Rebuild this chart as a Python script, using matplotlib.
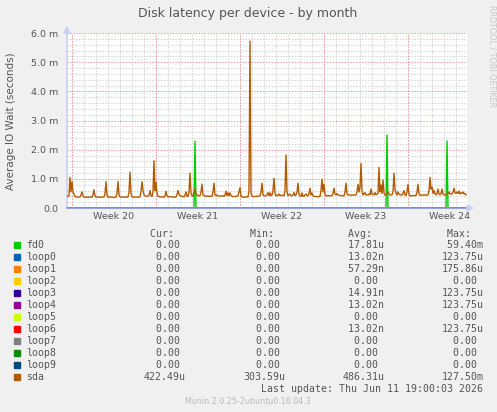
import matplotlib
matplotlib.use('Agg')
import matplotlib.pyplot as plt
from matplotlib.patches import Polygon, Rectangle

# ---------------- data ----------------
# hours since start of the 33-day window; values in milliseconds
sda_hours = [0, 2, 4, 6, 8, 10, 12, 14, 16, 18, 22, 26, 28, 30, 32, 34, 38, 42, 46, 50,
             52, 54, 56, 58, 62, 66, 70, 74, 76, 78, 80, 82, 86, 90, 94, 98, 100, 102, 104, 106,
             110, 114, 118, 122, 124, 126, 128, 130, 134, 138, 142, 146, 148, 150, 152, 154, 156, 158, 162, 164,
             166, 168, 170, 172, 174, 176, 178, 180, 182, 186, 190, 194, 196, 198, 200, 202, 206, 210, 214, 218,
             220, 222, 224, 226, 230, 234, 236, 238, 240, 242, 244, 246, 248, 250, 252, 254, 256, 258, 260, 262,
             266, 268, 270, 272, 274, 278, 282, 286, 290, 292, 294, 296, 298, 300, 302, 306, 310, 314, 316, 318,
             320, 322, 324, 326, 328, 330, 334, 338, 342, 344, 346, 348, 350, 354, 358, 362, 364, 366, 368, 370,
             374, 378, 382, 386, 388, 390, 392, 394, 398, 400, 402, 404, 406, 408, 410, 412, 414, 416, 418, 422,
             424, 426, 428, 430, 432, 434, 436, 438, 440, 442, 444, 446, 448, 450, 452, 454, 456, 458, 460, 462,
             464, 466, 468, 470, 472, 474, 476, 478, 480, 482, 484, 486, 488, 490, 492, 494, 498, 502, 506, 508,
             510, 512, 514, 516, 518, 522, 526, 530, 532, 534, 536, 538, 540, 542, 546, 550, 554, 556, 558, 560,
             562, 566, 570, 574, 578, 580, 582, 584, 586, 588, 590, 592, 594, 596, 598, 602, 604, 606, 608, 610,
             614, 616, 618, 622, 624, 626, 628, 630, 632, 634, 636, 638, 640, 642, 644, 646, 650, 652, 654, 656,
             658, 660, 662, 664, 666, 670, 672, 674, 676, 678, 680, 682, 684, 686, 690, 694, 698, 700, 702, 704,
             706, 710, 714, 718, 722, 724, 726, 728, 730, 732, 734, 736, 738, 740, 742, 744, 746, 748, 750, 752,
             754, 758, 762, 764, 766, 770, 772, 774, 776, 778, 780, 782, 784, 786, 788, 790, 792, 794, 796, 798]
sda_ms = [0.40, 0.40, 0.42, 1.05, 0.55, 0.90, 0.55, 0.48, 0.40, 0.38, 0.37, 0.38, 0.45, 0.55, 0.42, 0.37, 0.38, 0.36, 0.38, 0.37,
          0.45, 0.62, 0.42, 0.37, 0.38, 0.37, 0.37, 0.38, 0.50, 0.90, 0.45, 0.37, 0.38, 0.37, 0.36, 0.38, 0.50, 0.90, 0.45, 0.38,
          0.37, 0.38, 0.37, 0.38, 0.55, 1.23, 0.50, 0.38, 0.37, 0.38, 0.37, 0.38, 0.55, 0.90, 0.60, 0.45, 0.42, 0.40, 0.40, 0.45,
          0.60, 0.42, 0.40, 0.55, 1.62, 0.60, 0.88, 0.50, 0.40, 0.38, 0.38, 0.37, 0.42, 0.57, 0.42, 0.38, 0.39, 0.38, 0.37, 0.38,
          0.45, 0.60, 0.48, 0.42, 0.40, 0.38, 0.45, 0.55, 0.40, 0.39, 0.55, 1.20, 0.50, 0.42, 0.40, 0.55, 0.65, 0.50, 0.45, 0.42,
          0.42, 0.55, 0.82, 0.45, 0.42, 0.40, 0.41, 0.40, 0.40, 0.55, 0.85, 0.45, 0.42, 0.45, 0.42, 0.40, 0.42, 0.40, 0.45, 0.58,
          0.42, 0.52, 0.42, 0.52, 0.42, 0.40, 0.39, 0.40, 0.42, 0.55, 0.70, 0.42, 0.38, 0.37, 0.38, 0.38, 0.60, 5.72, 0.50, 0.40,
          0.39, 0.40, 0.40, 0.42, 0.55, 0.85, 0.45, 0.42, 0.42, 0.45, 0.53, 0.42, 0.52, 0.42, 0.45, 0.60, 1.02, 0.50, 0.42, 0.44,
          0.48, 0.42, 0.44, 0.44, 0.42, 0.42, 0.60, 1.82, 0.55, 0.42, 0.45, 0.48, 0.42, 0.42, 0.45, 0.53, 0.42, 0.45, 0.55, 0.85,
          0.48, 0.42, 0.40, 0.52, 0.40, 0.40, 0.45, 0.48, 0.42, 0.42, 0.50, 0.68, 0.45, 0.51, 0.42, 0.40, 0.39, 0.39, 0.40, 0.60,
          0.99, 0.55, 0.81, 0.48, 0.42, 0.42, 0.42, 0.42, 0.50, 0.68, 0.48, 0.45, 0.50, 0.45, 0.43, 0.42, 0.42, 0.55, 0.85, 0.48,
          0.45, 0.44, 0.45, 0.44, 0.45, 0.55, 0.81, 0.55, 0.70, 1.53, 0.60, 0.45, 0.48, 0.53, 0.45, 0.45, 0.48, 0.45, 0.65, 0.48,
          0.45, 0.53, 0.45, 0.50, 1.39, 0.55, 0.79, 0.50, 0.96, 0.50, 0.45, 0.45, 0.50, 0.55, 0.48, 0.45, 0.45, 0.55, 1.19, 0.65,
          0.50, 0.45, 0.55, 0.48, 0.45, 0.45, 0.50, 0.60, 0.45, 0.43, 0.55, 0.81, 0.48, 0.42, 0.42, 0.43, 0.42, 0.55, 0.81, 0.48,
          0.44, 0.44, 0.45, 0.44, 0.45, 0.60, 1.05, 0.65, 0.72, 0.50, 0.60, 0.48, 0.45, 0.50, 0.65, 0.48, 0.45, 0.50, 0.65, 0.48,
          0.45, 0.45, 0.50, 0.55, 0.48, 0.48, 0.55, 0.68, 0.52, 0.50, 0.55, 0.50, 0.58, 0.48, 0.52, 0.50, 0.55, 0.48, 0.50, 0.45]

fd0_hours = [0, 254, 256, 258, 638, 640, 642, 758, 760, 762, 798]
fd0_ms = [0.0, 0.0, 2.29, 0.0, 0.0, 2.50, 0.0, 0.0, 2.30, 0.0, 0.0]

loop_hours = [0, 798]
loop_ms = [0.0, 0.0]

names = ['fd0', 'loop0', 'loop1', 'loop2', 'loop3', 'loop4', 'loop5', 'loop6',
         'loop7', 'loop8', 'loop9', 'sda']
colors = ['#00CC00', '#0066B3', '#FF8000', '#FFCC00', '#330099', '#990099',
          '#CCFF00', '#FF0000', '#808080', '#008F00', '#00487D', '#B35A00']
cur_vals = ['0.00'] * 11 + ['422.49u']
min_vals = ['0.00'] * 11 + ['303.59u']
avg_vals = ['17.81u', '13.02n', '57.29n', '0.00', '14.91n', '13.02n', '0.00',
            '13.02n', '0.00', '0.00', '0.00', '486.31u']
max_vals = ['59.40m', '123.75u', '175.86u', '0.00', '123.75u', '123.75u', '0.00',
            '123.75u', '0.00', '0.00', '0.00', '127.50m']

week_labels = ['Week 20', 'Week 21', 'Week 22', 'Week 23', 'Week 24']
ytick_vals = [0, 1, 2, 3, 4, 5, 6]
ytick_labels = ['0.0', '1.0 m', '2.0 m', '3.0 m', '4.0 m', '5.0 m', '6.0 m']

# ---------------- figure ----------------
W, H = 497, 412
BG = '#F0F0F0'
TXT = '#555555'
fig = plt.figure(figsize=(W / 100, H / 100), dpi=100, facecolor=BG)

def fx(px):
    return px / W

def fy(py):
    return 1 - py / H

ax = fig.add_axes([fx(67), fy(208), 400 / W, 175 / H], facecolor='white')
ax.set_xlim(0, 800)
ax.set_ylim(0, 6.0)

# grid
first_major = 10
for h in range(first_major, 800, 24):
    ax.axvline(h, color='#d3d3d3', lw=0.7, ls=(0, (1.5, 1.5)), zorder=0)
for k in range(1, 30):
    y = k * 0.2
    if k % 5:
        ax.axhline(y, color='#d3d3d3', lw=0.7, ls=(0, (1.5, 1.5)), zorder=0)
for h in range(first_major, 800, 168):
    ax.axvline(h, color='#f09a9a', lw=0.7, ls=(0, (1.5, 1.5)), zorder=0.5)
for y in range(1, 7):
    ax.axhline(y, color='#f09a9a', lw=0.7, ls=(0, (1.5, 1.5)), zorder=0.5)

# series
ax.plot(fd0_hours, fd0_ms, color=colors[0], lw=1.0, zorder=2)
for c in colors[1:11]:
    ax.plot(loop_hours, loop_ms, color=c, lw=1.0, zorder=2)
ax.plot(sda_hours, sda_ms, color=colors[11], lw=1.0, zorder=3)

# axes styling
for s in ['top', 'right']:
    ax.spines[s].set_visible(False)
ax.spines['left'].set_color('#c9d0f4')
ax.spines['left'].set_linewidth(1.2)
ax.spines['bottom'].set_color('#8494d4')
ax.spines['bottom'].set_linewidth(1.2)
ax.spines['bottom'].set_zorder(5)

ax.set_xticks([first_major + 84 + 168 * i for i in range(len(week_labels))])
ax.set_xticklabels(week_labels)
ax.set_yticks(ytick_vals)
ax.set_yticklabels(ytick_labels)
ax.tick_params(axis='both', length=0, labelsize=6.8, labelcolor=TXT)
ax.tick_params(axis='y', pad=6)
ax.tick_params(axis='x', pad=3)

# arrows
fig.patches.append(Polygon([(fx(64), fy(33)), (fx(70), fy(33)), (fx(67), fy(27))],
                           closed=True, transform=fig.transFigure, color='#c9d0f4'))
fig.patches.append(Polygon([(fx(467), fy(205)), (fx(467), fy(211)), (fx(473), fy(208))],
                           closed=True, transform=fig.transFigure, color='#c9d0f4'))

# texts
fig.text(fx(248), fy(13), 'Disk latency per device - by month', ha='center', va='center',
         fontsize=9, color=TXT)
fig.text(fx(11), fy(121), 'Average IO Wait (seconds)', rotation=90, ha='center', va='center',
         fontsize=7.5, color=TXT)
fig.text(fx(492), fy(5), 'RRDTOOL / TOBI OETIKER', rotation=270, ha='center', va='top',
         fontsize=5.8, color='#c8c8c8')

# legend
MONO = 'DejaVu Sans Mono'
LFS = 7.1

def fmt(v):
    return v.rjust(7) if v[-1].isalpha() else (v + ' ').rjust(7)

col_left = [143.7, 243.7, 342.4, 441.4]
headers = [' Cur:', ' Min:', ' Avg:', ' Max:']
for xl, hd in zip(col_left, headers):
    fig.text(fx(xl), fy(234), hd, ha='left', va='center', fontsize=LFS, family=MONO, color=TXT)

for i, (n, c) in enumerate(zip(names, colors)):
    yc = 245 + 12 * i
    fig.patches.append(Rectangle((fx(14), fy(yc + 3)), 6 / W, 6 / H,
                                 transform=fig.transFigure, color=c))
    fig.text(fx(26), fy(yc), n, ha='left', va='center', fontsize=LFS, family=MONO, color=TXT)
    for xl, vals in zip(col_left, [cur_vals, min_vals, avg_vals, max_vals]):
        fig.text(fx(xl), fy(yc), fmt(vals[i]), ha='left', va='center', fontsize=LFS,
                 family=MONO, color=TXT)

fig.text(fx(483), fy(389), 'Last update: Thu Jun 11 19:00:03 2026', ha='right', va='center',
         fontsize=LFS, family=MONO, color=TXT)
fig.text(fx(248), fy(401), 'Munin 2.0.25-2ubuntu0.16.04.3', ha='center', va='center',
         fontsize=5.8, color='#bbbbbb')

fig.savefig('out.png', dpi=100, facecolor=BG)
